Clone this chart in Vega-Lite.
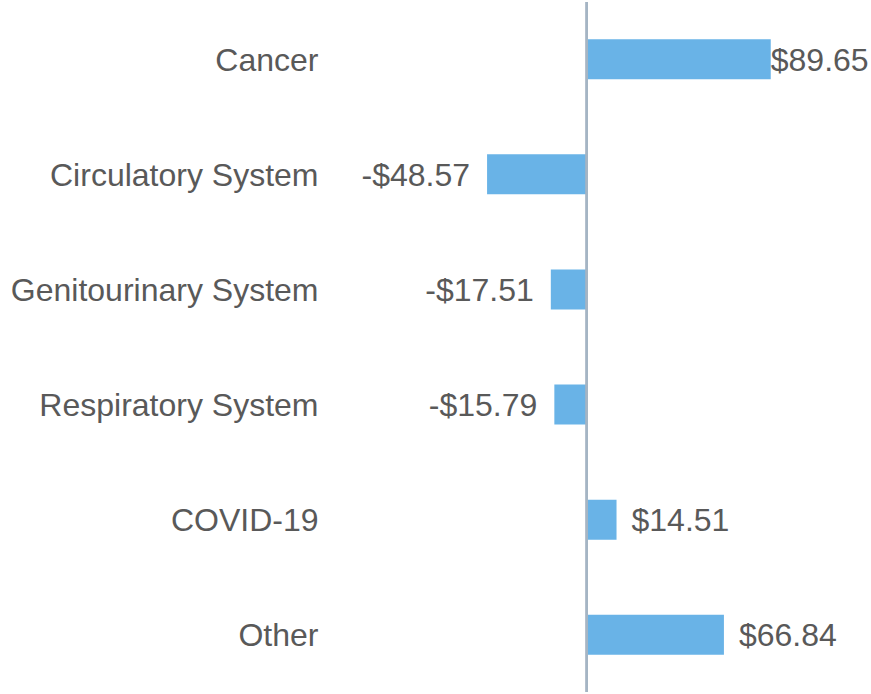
{
  "$schema": "https://vega.github.io/schema/vega-lite/v6.json",
  "autosize": {"type": "none"},
  "padding": {"left": 330, "top": 0, "right": 0, "bottom": 0},
  "width": 541,
  "height": 694,
  "background": "white",
  "config": {"view": {"stroke": null}, "font": "Liberation Sans"},
  "data": {
    "values": [
      {"category": "Cancer", "value": 89.65, "label": "$89.65"},
      {"category": "Circulatory System", "value": -48.57, "label": "-$48.57"},
      {"category": "Genitourinary System", "value": -17.51, "label": "-$17.51"},
      {"category": "Respiratory System", "value": -15.79, "label": "-$15.79"},
      {"category": "COVID-19", "value": 14.51, "label": "$14.51"},
      {"category": "Other", "value": 66.84, "label": "$66.84"}
    ]
  },
  "encoding": {
    "y": {
      "field": "category",
      "type": "nominal",
      "sort": null,
      "scale": {"paddingInner": 0.652, "paddingOuter": 0.34},
      "axis": {
        "title": null,
        "ticks": false,
        "domain": false,
        "labelFontSize": 32,
        "labelColor": "#595959",
        "labelPadding": 12,
        "labelLimit": 400,
        "labelOffset": 1.5,
        "labelFont": "Liberation Sans"
      }
    }
  },
  "layer": [
    {
      "mark": {"type": "bar", "color": "#69b3e7"},
      "encoding": {
        "x": {
          "field": "value",
          "type": "quantitative",
          "scale": {"domain": [-125.1, 138.5], "nice": false, "zero": false},
          "axis": null
        }
      }
    },
    {
      "mark": {"type": "rule", "color": "#a5b5c4", "strokeWidth": 2},
      "encoding": {"x": {"datum": 0, "type": "quantitative"}, "y": {"value": 2}, "y2": {"value": 692}}
    },
    {
      "transform": [{"filter": "datum.value > 0 && datum.category != 'Cancer'"}],
      "mark": {"type": "text", "align": "left", "baseline": "middle", "dx": 15, "dy": 1.5, "fontSize": 32, "color": "#595959"},
      "encoding": {"x": {"field": "value", "type": "quantitative"}, "text": {"field": "label"}}
    },
    {
      "transform": [{"filter": "datum.category == 'Cancer'"}],
      "mark": {"type": "text", "align": "left", "baseline": "middle", "dx": 0, "dy": 1.5, "fontSize": 32, "color": "#595959"},
      "encoding": {"x": {"field": "value", "type": "quantitative"}, "text": {"field": "label"}}
    },
    {
      "transform": [{"filter": "datum.value < 0"}],
      "mark": {"type": "text", "align": "right", "baseline": "middle", "dx": -17, "dy": 1.5, "fontSize": 32, "color": "#595959"},
      "encoding": {"x": {"field": "value", "type": "quantitative"}, "text": {"field": "label"}}
    }
  ]
}
